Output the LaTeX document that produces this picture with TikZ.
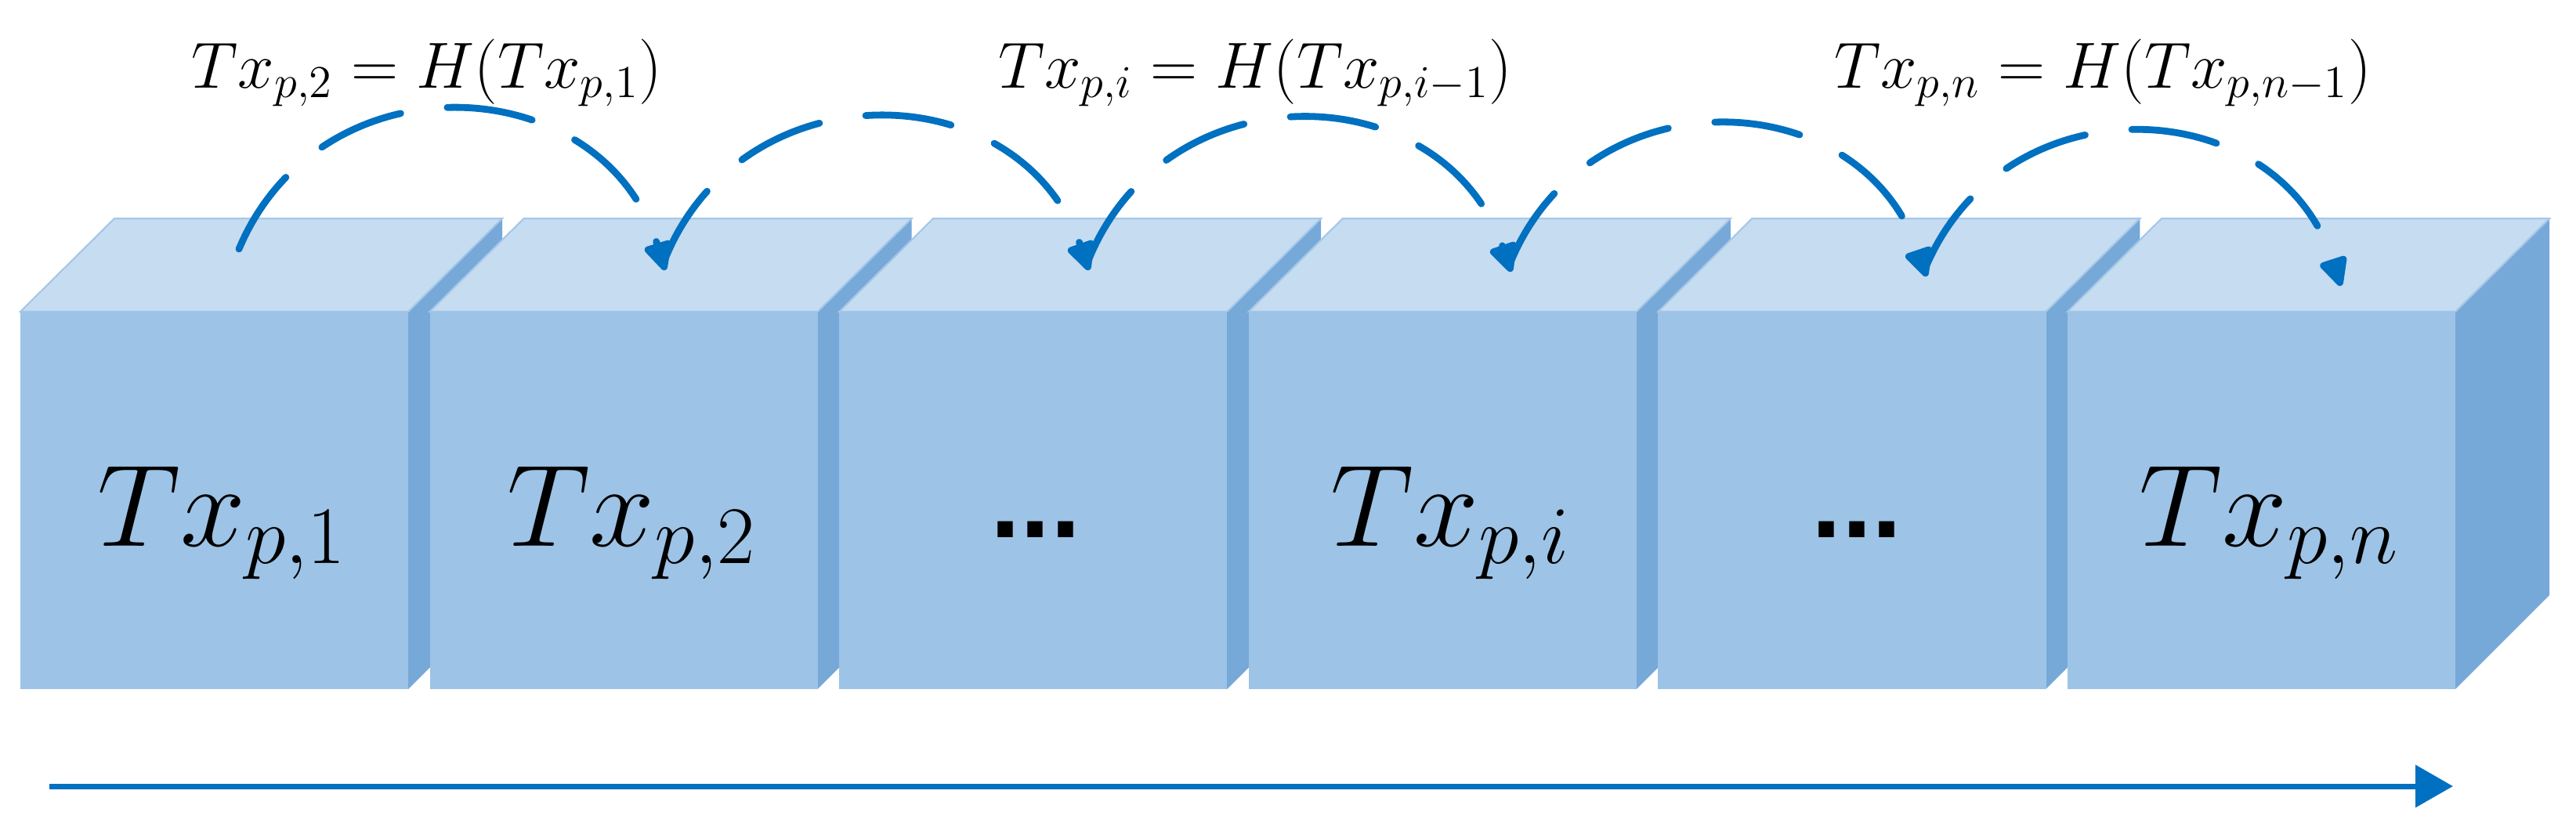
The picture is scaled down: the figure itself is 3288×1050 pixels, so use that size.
\RequirePackage{fix-cm}
\documentclass[tikz,border=0pt]{standalone}
\usepackage{fontspec}
\newfontfamily\dotsfont{Liberation Sans}
\usetikzlibrary{arrows.meta}
\definecolor{frontc}{HTML}{9DC3E6}
\definecolor{topc}{HTML}{C6DCF0}
\definecolor{sidec}{HTML}{76A8D8}
\definecolor{edgec}{HTML}{A4C7E8}
\definecolor{arrowc}{HTML}{0070C0}
\tikzset{
  frontface/.style={fill=frontc},
  topface/.style={fill=topc, draw=edgec, line width=0.6pt},
  sideface/.style={fill=sidec},
  hasharc/.style={draw=arrowc, line width=2.5pt, line cap=round,
    dash pattern=on 1.1cm off 0.6cm,
    -{Triangle[length=0.42cm,width=0.38cm,round]}},
  arcbend/.style={bend left=70, looseness=1.27},
  timeline/.style={draw=arrowc, line width=2pt, -{Triangle[length=0.48cm,width=0.53cm]}},
  bigtx/.style={font=\fontsize{42.4}{50}\selectfont, inner sep=0pt, anchor=base},
  eqlabel/.style={font=\fontsize{23.7}{28}\selectfont, inner sep=0pt, anchor=base},
  dotslabel/.style={font=\dotsfont\bfseries\fontsize{39}{44}\selectfont, inner sep=0pt, anchor=base},
}
\begin{document}
\begin{tikzpicture}[x=0.01cm,y=-0.01cm]
\useasboundingbox (0,0) rectangle (3288,1050);
% boxes
\foreach \k in {0,...,5} {
  \pgfmathsetmacro\L{26+522.6*\k}
  \pgfmathsetmacro\R{\L+495}
  \fill[sideface] (\R,398) -- (\R+120,279) -- (\R+120,760) -- (\R,880) -- cycle;
  \filldraw[topface] (\L,398) -- (\L+120,279) -- (\R+120,279) -- (\R,398) -- cycle;
  \fill[frontface] (\L,398) rectangle (\R,880);
}
% box texts
\node[bigtx] (t1) at (283.5,697) {$Tx_{p,1}$};
\node[bigtx] (t2) at (806.1,697) {$Tx_{p,2}$};
\node[dotslabel] (d1) at (1322,686) {...};
\node[bigtx] (t4) at (1851.3,697) {$Tx_{p,i}$};
\node[dotslabel] (d2) at (2370,686) {...};
\node[bigtx] (t6) at (2896.5,697) {$Tx_{p,n}$};
% equation labels
\node[eqlabel] (lab1) at (545,112) {$Tx_{p,2}=H(Tx_{p,1})$};
\node[eqlabel] (lab2) at (1602,112) {$Tx_{p,i}=H(Tx_{p,i-1})$};
\node[eqlabel] (lab3) at (2684,112) {$Tx_{p,n}=H(Tx_{p,n-1})$};
% arc anchor points
\coordinate (s1) at (305,318);
\coordinate (e1) at (849,345);
\coordinate (s2) at (846,338);
\coordinate (e2) at (1390,345);
\coordinate (s3) at (1387,338);
\coordinate (e3) at (1929,347);
\coordinate (s4) at (1926,340);
\coordinate (e4) at (2459,353);
\coordinate (s5) at (2456,346);
\coordinate (e5) at (2988,365);
\draw[hasharc] (s1) to[arcbend] (e1);
\draw[hasharc] (s2) to[arcbend] (e2);
\draw[hasharc] (s3) to[arcbend] (e3);
\draw[hasharc] (s4) to[arcbend] (e4);
\draw[hasharc] (s5) to[arcbend] (e5);
% time line
\coordinate (tl0) at (63,1004);
\coordinate (tl1) at (3131,1004);
\draw[timeline] (tl0) -- (tl1);
\end{tikzpicture}
\end{document}
